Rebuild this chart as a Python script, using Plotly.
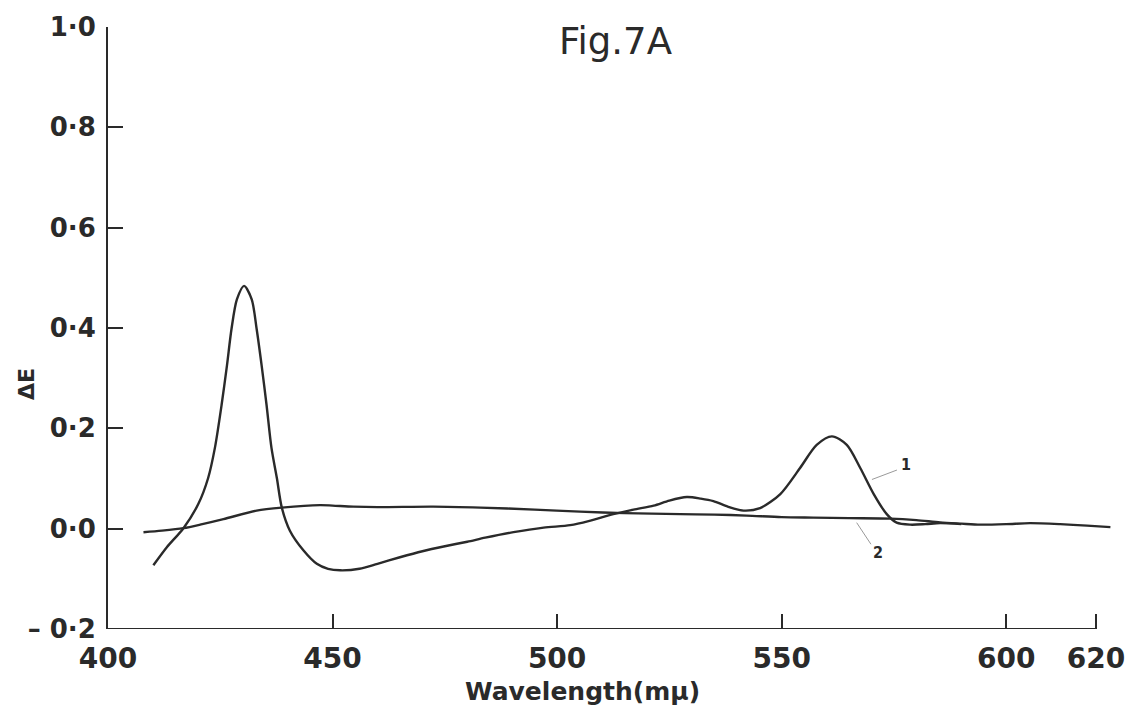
import plotly.graph_objects as go

# Curve 1 (large Soret peak)
wl1 = [410.1, 413.1, 416.8, 420.1, 422.3, 423.8, 425.3, 426.5, 427.5, 428.7, 430.3, 432.0,
       433.1, 434.2, 435.3, 436.4, 437.6, 438.7, 440.5, 443.5, 446.5, 449, 451.7, 456,
       460, 465, 470, 475, 480, 484, 490.3, 497, 502.9, 507, 512.5, 517, 521.5, 525,
       528.9, 532, 534.8, 538, 541.5, 545.2, 549.7, 554.1, 557.8, 561.2, 564.5, 567.5,
       570.5, 573.4, 575.6, 578.6, 582, 585.3, 590]
de1 = [-0.073, -0.037, 0.001, 0.049, 0.101, 0.161, 0.247, 0.326, 0.398, 0.457, 0.484, 0.457,
       0.398, 0.326, 0.247, 0.161, 0.101, 0.042, -0.004, -0.043, -0.070, -0.080, -0.083,
       -0.080, -0.070, -0.057, -0.045, -0.035, -0.026, -0.018, -0.007, 0.002, 0.007, 0.015,
       0.029, 0.038, 0.046, 0.056, 0.063, 0.060, 0.055, 0.044, 0.036, 0.041, 0.069, 0.121,
       0.167, 0.184, 0.167, 0.121, 0.069, 0.029, 0.012, 0.008, 0.009, 0.011, 0.009]

# Curve 2 (flat baseline)
wl2 = [407.9, 412, 416.8, 421, 425.7, 433.1, 438.7, 447.2, 450, 454.6, 460, 472.4, 482.9,
       495, 505.1, 515, 527.4, 535, 542.2, 550, 557, 565, 574.2, 580, 585.3, 590, 594.2,
       600, 605.3, 612, 618, 623.2]
de2 = [-0.007, -0.004, 0.001, 0.009, 0.019, 0.036, 0.042, 0.047, 0.046, 0.044, 0.043,
       0.044, 0.042, 0.038, 0.034, 0.031, 0.029, 0.028, 0.026, 0.023, 0.022, 0.021,
       0.020, 0.017, 0.0125, 0.010, 0.008, 0.009, 0.011, 0.009, 0.006, 0.003]

x_ticks = [400, 450, 500, 550, 600, 620]
x_ticktext = ["400", "450", "500", "550", "600", "620"]
y_ticks = [-0.2, 0.0, 0.2, 0.4, 0.6, 0.8, 1.0]
y_ticktext = ["\u2013 0\u00b72", "0\u00b70", "0\u00b72", "0\u00b74", "0\u00b76", "0\u00b78", "1\u00b70"]

ink = "#2a2a2a"
fig = go.Figure()
fig.add_trace(go.Scatter(x=wl1, y=de1, mode="lines",
                         line=dict(color=ink, width=2.4, shape="spline", smoothing=0.8),
                         showlegend=False, hoverinfo="skip"))
fig.add_trace(go.Scatter(x=wl2, y=de2, mode="lines",
                         line=dict(color=ink, width=2.4, shape="spline", smoothing=0.8),
                         showlegend=False, hoverinfo="skip"))

fig.update_layout(
    width=1142, height=720,
    margin=dict(l=108, r=28, t=22, b=91),
    paper_bgcolor="white", plot_bgcolor="white",
    font=dict(family="DejaVu Sans", color=ink),
    xaxis=dict(range=[400, 624], showgrid=False, zeroline=False, showline=False,
               tickmode="array", tickvals=x_ticks, ticktext=x_ticktext,
               ticks="inside", ticklen=15, tickwidth=2, tickcolor=ink,
               tickfont=dict(size=28, family="DejaVu Sans", color=ink, weight=600),
               ticklabelstandoff=10),
    yaxis=dict(range=[-0.2, 1.0], showgrid=False, zeroline=False, showline=True,
               linecolor=ink, linewidth=2,
               tickmode="array", tickvals=y_ticks, ticktext=y_ticktext,
               ticks="inside", ticklen=15, tickwidth=2, tickcolor=ink,
               tickfont=dict(size=26, family="DejaVu Sans", color=ink, weight="bold"),
               ticklabelstandoff=5),
)

# x axis line ending at 620
fig.add_shape(type="line", xref="x", yref="y", x0=400, x1=620, y0=-0.2, y1=-0.2,
              line=dict(color=ink, width=2))

# Leader lines and curve labels
fig.add_annotation(x=570.1, y=0.098, ax=576.0, ay=0.118, xref="x", yref="y", axref="x", ayref="y",
                   showarrow=True, arrowhead=0, arrowwidth=1, arrowcolor="#9a9a9a", text="")
fig.add_annotation(x=577.7, y=0.128, xref="x", yref="y", text="1", showarrow=False,
                   font=dict(size=16, family="DejaVu Sans Condensed", color=ink, weight="bold"))
fig.add_annotation(x=566.7, y=0.012, ax=570.1, ay=-0.034, xref="x", yref="y", axref="x", ayref="y",
                   showarrow=True, arrowhead=0, arrowwidth=1, arrowcolor="#9a9a9a", text="")
fig.add_annotation(x=571.5, y=-0.047, xref="x", yref="y", text="2", showarrow=False,
                   font=dict(size=16, family="DejaVu Sans Condensed", color=ink, weight="bold"))

# Title
fig.add_annotation(x=(615 - 108) / 1006, y=(629 - 37) / 607, xref="paper", yref="paper",
                   text="Fig.7A", showarrow=False, xanchor="center", yanchor="middle",
                   font=dict(size=37, family="DejaVu Sans", color=ink))
# Axis titles
fig.add_annotation(x=(582 - 108) / 1006, y=(629 - 692) / 607, xref="paper", yref="paper",
                   text="Wavelength(m\u03bc)", showarrow=False, xanchor="center", yanchor="middle",
                   font=dict(size=25, family="DejaVu Sans", color=ink, weight="bold"))
fig.add_annotation(x=(26 - 108) / 1006, y=(629 - 382) / 607, xref="paper", yref="paper",
                   text="\u0394E", showarrow=False, textangle=-90, xanchor="center", yanchor="middle",
                   font=dict(size=22, family="DejaVu Sans", color=ink, weight="bold"))

fig.write_html("out.html")
